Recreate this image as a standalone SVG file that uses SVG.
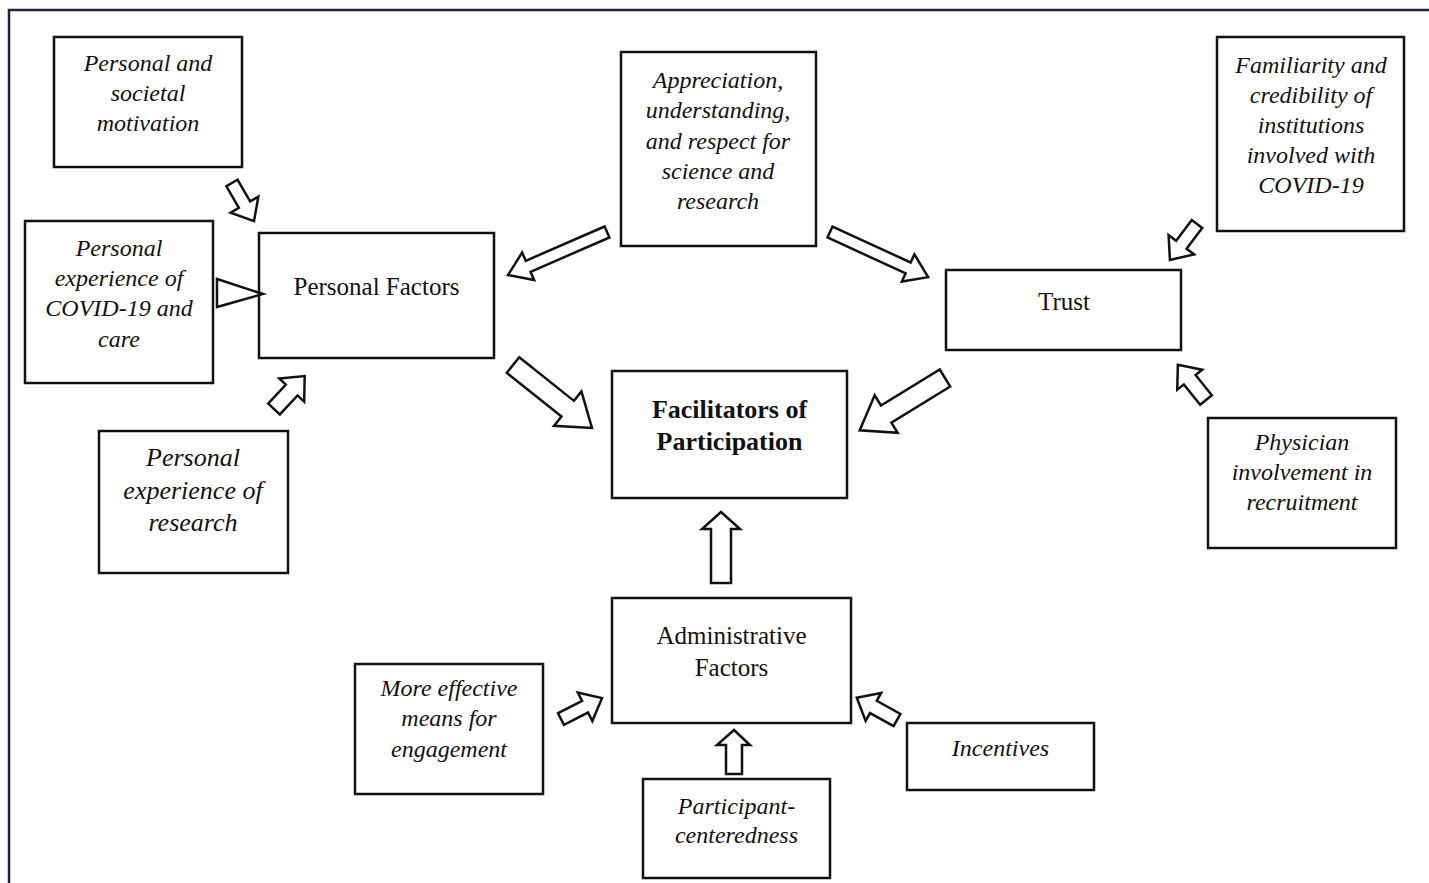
<svg xmlns="http://www.w3.org/2000/svg" width="1429" height="883" viewBox="0 0 1429 883">
<style>
.box{fill:#fff;stroke:#111;stroke-width:2.5}
.arr{fill:#fff;stroke:#111;stroke-width:2.5;stroke-linejoin:miter}
.it{font-family:"Liberation Serif","Times New Roman",serif;font-style:italic;font-size:24px;fill:#111;text-anchor:middle}
.itl{font-family:"Liberation Serif","Times New Roman",serif;font-style:italic;font-size:26px;fill:#111;text-anchor:middle}
.rg{font-family:"Liberation Serif","Times New Roman",serif;font-size:25px;fill:#111;text-anchor:middle}
.bd{font-family:"Liberation Serif","Times New Roman",serif;font-weight:bold;font-size:26px;fill:#111;text-anchor:middle}
</style>
<rect x="0" y="0" width="1429" height="883" fill="#fff"/>
<rect x="9" y="10" width="1440" height="900" fill="none" stroke="#1c2541" stroke-width="2.5"/>

<g id="motivation"><rect class="box" x="54" y="37" width="188" height="130"/>
<text class="it" x="148" y="71">Personal and</text><text class="it" x="148" y="101">societal</text><text class="it" x="148" y="131">motivation</text></g>

<g id="covid-experience"><rect class="box" x="25" y="221" width="188" height="162"/>
<text class="it" x="119" y="256">Personal</text><text class="it" x="119" y="286">experience of</text><text class="it" x="119" y="316">COVID-19 and</text><text class="it" x="119" y="347">care</text></g>

<g id="personal-factors"><rect class="box" x="259" y="233" width="235" height="125"/>
<text class="rg" x="376.500" y="295">Personal Factors</text></g>

<g id="research-experience"><rect class="box" x="99" y="431" width="189" height="142"/>
<text class="itl" x="193" y="466">Personal</text><text class="itl" x="193" y="499">experience of</text><text class="itl" x="193" y="531">research</text></g>

<g id="appreciation"><rect class="box" x="621" y="52" width="195" height="194"/>
<text class="it" x="718" y="88">Appreciation,</text><text class="it" x="718" y="118">understanding,</text><text class="it" x="718" y="149">and respect for</text><text class="it" x="718" y="179">science and</text><text class="it" x="718" y="209">research</text></g>

<g id="familiarity"><rect class="box" x="1217" y="37" width="187" height="194"/>
<text class="it" x="1311" y="73">Familiarity and</text><text class="it" x="1311" y="103">credibility of</text><text class="it" x="1311" y="133">institutions</text><text class="it" x="1311" y="163">involved with</text><text class="it" x="1311" y="193">COVID-19</text></g>

<g id="trust"><rect class="box" x="946" y="270" width="235" height="80"/>
<text class="rg" x="1064" y="310">Trust</text></g>

<g id="facilitators"><rect class="box" x="612" y="371" width="235" height="127"/>
<text class="bd" x="729.500" y="418">Facilitators of</text><text class="bd" x="729.500" y="450">Participation</text></g>

<g id="physician"><rect class="box" x="1208" y="418" width="188" height="130"/>
<text class="it" x="1302" y="450">Physician</text><text class="it" x="1302" y="480">involvement in</text><text class="it" x="1302" y="510">recruitment</text></g>

<g id="administrative"><rect class="box" x="612" y="598" width="239" height="125"/>
<text class="rg" x="731.500" y="644">Administrative</text><text class="rg" x="731.500" y="676">Factors</text></g>

<g id="engagement"><rect class="box" x="355" y="664" width="188" height="130"/>
<text class="it" x="449" y="696">More effective</text><text class="it" x="449" y="726">means for</text><text class="it" x="449" y="757">engagement</text></g>

<g id="incentives"><rect class="box" x="907" y="723" width="187" height="67"/>
<text class="it" x="1000.500" y="756">Incentives</text></g>

<g id="participant"><rect class="box" x="643" y="779" width="187" height="99"/>
<text class="it" x="736.500" y="814">Participant-</text><text class="it" x="736.500" y="843">centeredness</text></g>

<g id="connectors">
<path class="arr" d="M0,-6.5 H25 V-16 L44,0 L25,16 V6.5 H0 Z" transform="translate(232,183) rotate(60)"/>
<path class="arr" d="M217,279 L263,294 L217,307 Z"/>
<path class="arr" d="M0,-8 H26 V-17 L45,0 L26,17 V8 H0 Z" transform="translate(274,409) rotate(-47)"/>
<path class="arr" d="M0,-6 H86 V-15 L108,0 L86,15 V6 H0 Z" transform="translate(607,232) rotate(156.5)"/>
<path class="arr" d="M0,-10 H70 V-22 L101,0 L70,22 V10 H0 Z" transform="translate(513,365) rotate(38.6)"/>
<path class="arr" d="M0,-6 H86 V-15 L108,0 L86,15 V6 H0 Z" transform="translate(830,232) rotate(24.7)"/>
<path class="arr" d="M0,-10 H69 V-22 L100,0 L69,22 V10 H0 Z" transform="translate(945,378) rotate(148.5)"/>
<path class="arr" d="M0,-6.5 H26 V-16 L45,0 L26,16 V6.5 H0 Z" transform="translate(1197,224) rotate(127)"/>
<path class="arr" d="M0,-7.5 H26 V-16 L45,0 L26,16 V7.5 H0 Z" transform="translate(1206,400) rotate(-128.7)"/>
<path class="arr" d="M711,583 V529 H702 L721,512 L740,529 H731 V583 Z"/>
<path class="arr" d="M0,-6.5 H27 V-16 L46,0 L27,16 V6.5 H0 Z" transform="translate(561,719) rotate(-27)"/>
<path class="arr" d="M0,-7 H27 V-16 L46,0 L27,16 V7 H0 Z" transform="translate(897,720) rotate(-151)"/>
<path class="arr" d="M726,774 V745 H717 L734,730 L750,745 H742 V774 Z"/>
</g>
</svg>
